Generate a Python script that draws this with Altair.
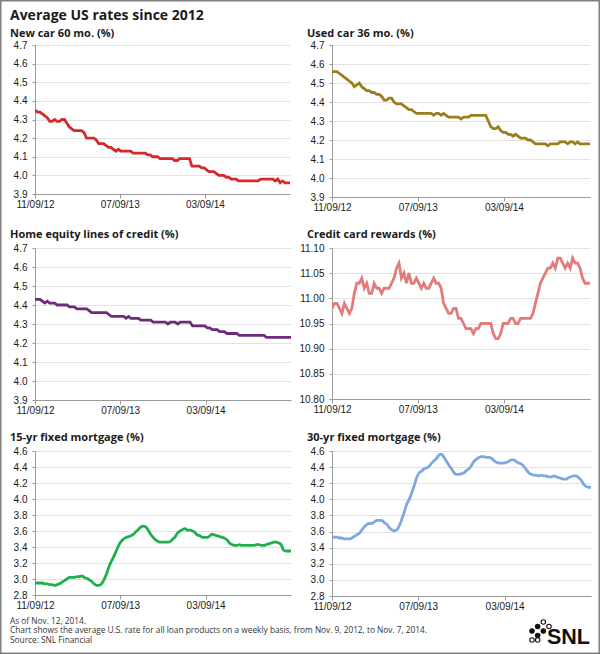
import altair as alt
import pandas as pd

# ---------------- data ----------------
START_DATE = "2012-11-09"
N_WEEKS = 105

new_car = [
    4.35, 4.34, 4.34, 4.33, 4.32, 4.31, 4.29, 4.29, 4.30, 4.29,
    4.29, 4.30, 4.30, 4.28, 4.26, 4.25, 4.24, 4.24, 4.24, 4.24,
    4.23, 4.20, 4.20, 4.20, 4.20, 4.19, 4.17, 4.17, 4.17, 4.16,
    4.15, 4.15, 4.14, 4.13, 4.14, 4.13, 4.13, 4.13, 4.13, 4.13,
    4.12, 4.12, 4.12, 4.12, 4.12, 4.12, 4.11, 4.11, 4.10, 4.10,
    4.10, 4.09, 4.09, 4.09, 4.09, 4.09, 4.09, 4.08, 4.08, 4.09,
    4.09, 4.09, 4.09, 4.09, 4.05, 4.05, 4.05, 4.05, 4.04, 4.04,
    4.03, 4.02, 4.02, 4.02, 4.01, 4.00, 4.00, 4.00, 3.99, 3.99,
    3.98, 3.98, 3.98, 3.97, 3.97, 3.97, 3.97, 3.97, 3.97, 3.97,
    3.97, 3.97, 3.98, 3.98, 3.98, 3.98, 3.98, 3.98, 3.97, 3.98,
    3.96, 3.97, 3.96, 3.96, 3.96,
]
used_car = [
    4.56, 4.56, 4.56, 4.55, 4.54, 4.53, 4.52, 4.51, 4.50, 4.48,
    4.49, 4.50, 4.48, 4.47, 4.46, 4.46, 4.45, 4.45, 4.44, 4.44,
    4.43, 4.41, 4.41, 4.42, 4.42, 4.40, 4.39, 4.39, 4.39, 4.38,
    4.37, 4.36, 4.36, 4.35, 4.34, 4.34, 4.34, 4.34, 4.34, 4.34,
    4.34, 4.33, 4.34, 4.34, 4.33, 4.34, 4.33, 4.32, 4.32, 4.32,
    4.32, 4.32, 4.31, 4.32, 4.32, 4.32, 4.33, 4.33, 4.33, 4.33,
    4.33, 4.33, 4.33, 4.30, 4.27, 4.26, 4.26, 4.27, 4.25, 4.24,
    4.24, 4.23, 4.23, 4.22, 4.23, 4.22, 4.21, 4.21, 4.21, 4.20,
    4.20, 4.19, 4.18, 4.18, 4.18, 4.18, 4.18, 4.17, 4.18, 4.18,
    4.18, 4.18, 4.19, 4.19, 4.19, 4.18, 4.19, 4.19, 4.18, 4.19,
    4.18, 4.18, 4.18, 4.18, 4.18,
]
home_equity = [
    4.43, 4.43, 4.43, 4.42, 4.41, 4.42, 4.41, 4.41, 4.41, 4.40,
    4.40, 4.40, 4.40, 4.40, 4.39, 4.39, 4.39, 4.38, 4.38, 4.38,
    4.38, 4.38, 4.37, 4.36, 4.36, 4.36, 4.36, 4.36, 4.36, 4.36,
    4.35, 4.34, 4.34, 4.34, 4.34, 4.34, 4.34, 4.33, 4.34, 4.33,
    4.33, 4.33, 4.33, 4.32, 4.32, 4.32, 4.32, 4.32, 4.31, 4.31,
    4.31, 4.31, 4.31, 4.31, 4.30, 4.31, 4.31, 4.31, 4.30, 4.31,
    4.31, 4.31, 4.31, 4.31, 4.29, 4.29, 4.29, 4.29, 4.29, 4.29,
    4.28, 4.28, 4.27, 4.27, 4.27, 4.26, 4.26, 4.26, 4.25, 4.25,
    4.25, 4.25, 4.25, 4.24, 4.24, 4.24, 4.24, 4.24, 4.24, 4.24,
    4.24, 4.24, 4.24, 4.24, 4.23, 4.23, 4.23, 4.23, 4.23, 4.23,
    4.23, 4.23, 4.23, 4.23, 4.23,
]
credit_card = [
    10.98, 10.99, 10.99, 10.98, 10.97, 10.99, 10.98, 10.97, 10.98, 11.01,
    11.03, 11.03, 11.04, 11.02, 11.03, 11.01, 11.01, 11.03, 11.02, 11.02,
    11.01, 11.02, 11.02, 11.02, 11.03, 11.04, 11.06, 11.07, 11.04, 11.05,
    11.03, 11.05, 11.03, 11.03, 11.04, 11.03, 11.02, 11.03, 11.02, 11.02,
    11.03, 11.04, 11.03, 11.03, 11.02, 10.99, 10.98, 10.97, 10.97, 10.98,
    10.98, 10.96, 10.96, 10.95, 10.94, 10.94, 10.94, 10.93, 10.94, 10.94,
    10.95, 10.95, 10.95, 10.95, 10.95, 10.93, 10.92, 10.92, 10.93, 10.95,
    10.95, 10.95, 10.96, 10.96, 10.95, 10.95, 10.96, 10.96, 10.96, 10.96,
    10.96, 10.97, 10.99, 11.01, 11.03, 11.04, 11.05, 11.06, 11.06, 11.07,
    11.06, 11.08, 11.08, 11.07, 11.06, 11.07, 11.06, 11.08, 11.07, 11.07,
    11.06, 11.04, 11.03, 11.03, 11.03,
]
fixed_15yr = [
    2.95, 2.95, 2.95, 2.95, 2.94, 2.94, 2.93, 2.93, 2.92, 2.93,
    2.94, 2.96, 2.98, 3.00, 3.02, 3.02, 3.02, 3.03, 3.03, 3.04,
    3.02, 3.01, 2.99, 2.97, 2.94, 2.92, 2.92, 2.94, 2.99, 3.06,
    3.15, 3.22, 3.28, 3.35, 3.42, 3.47, 3.50, 3.52, 3.53, 3.54,
    3.56, 3.59, 3.62, 3.65, 3.66, 3.65, 3.61, 3.56, 3.52, 3.49,
    3.47, 3.46, 3.46, 3.46, 3.46, 3.47, 3.50, 3.53, 3.58, 3.60,
    3.62, 3.63, 3.61, 3.61, 3.60, 3.58, 3.55, 3.54, 3.52, 3.52,
    3.52, 3.54, 3.56, 3.55, 3.54, 3.53, 3.52, 3.51, 3.49, 3.45,
    3.43, 3.42, 3.42, 3.43, 3.42, 3.42, 3.42, 3.42, 3.42, 3.42,
    3.43, 3.43, 3.42, 3.42, 3.43, 3.44, 3.45, 3.46, 3.46, 3.45,
    3.43, 3.36, 3.35, 3.35, 3.35,
]
fixed_30yr = [
    3.54, 3.53, 3.53, 3.52, 3.52, 3.51, 3.51, 3.51, 3.52, 3.54,
    3.56, 3.58, 3.62, 3.66, 3.69, 3.70, 3.70, 3.72, 3.74, 3.74,
    3.74, 3.71, 3.69, 3.65, 3.62, 3.61, 3.62, 3.67, 3.75, 3.84,
    3.94, 4.00, 4.08, 4.17, 4.27, 4.33, 4.35, 4.38, 4.39, 4.41,
    4.45, 4.48, 4.51, 4.55, 4.56, 4.52, 4.47, 4.42, 4.38, 4.33,
    4.31, 4.31, 4.32, 4.33, 4.36, 4.38, 4.42, 4.47, 4.50, 4.52,
    4.53, 4.53, 4.52, 4.52, 4.51, 4.48, 4.46, 4.45, 4.45, 4.45,
    4.46, 4.47, 4.49, 4.49, 4.47, 4.45, 4.44, 4.41, 4.37, 4.33,
    4.31, 4.30, 4.30, 4.29, 4.30, 4.29, 4.29, 4.28, 4.28, 4.29,
    4.28, 4.27, 4.26, 4.25, 4.25, 4.27, 4.28, 4.29, 4.29, 4.27,
    4.24, 4.19, 4.16, 4.15, 4.15,
]

titles = [
    "New car 60 mo. (%)", "Used car 36 mo. (%)",
    "Home equity lines of credit (%)", "Credit card rewards (%)",
    "15-yr fixed mortgage (%)", "30-yr fixed mortgage (%)",
]
x_tick_dates = [(2012, 11, 9), (2013, 7, 9), (2014, 3, 9)]
x_domain = [(2012, 11, 9), (2014, 11, 7)]
y_ticks_car = [3.9, 4.0, 4.1, 4.2, 4.3, 4.4, 4.5, 4.6, 4.7]
y_ticks_card = [10.80, 10.85, 10.90, 10.95, 11.00, 11.05, 11.10]
y_ticks_mort = [2.8, 3.0, 3.2, 3.4, 3.6, 3.8, 4.0, 4.2, 4.4, 4.6]

main_title = "Average US rates since 2012"
footer_lines = [
    "As of Nov. 12, 2014.",
    "Chart shows the average U.S. rate for all loan products on a weekly basis, from Nov. 9, 2012, to Nov. 7, 2014.",
    "Source: SNL Financial",
]
# logo dot pattern (grid cells), filled or hollow
logo_col = [0, 1, 1, 2, 2, 3, 0, 1]
logo_row = [2, 1, 3, 0, 2, 1, 4, 4]
logo_fill = ["f", "f", "f", "h", "f", "h", "h", "h"]

series = [new_car, used_car, home_equity, credit_card, fixed_15yr, fixed_30yr]
for s in series:
    if len(s) != N_WEEKS:
        raise ValueError(f"lengths: {[len(t) for t in series]}")

dates = pd.date_range(START_DATE, periods=N_WEEKS, freq="7D").strftime("%Y-%m-%d")

# ---------------- layout (pixels) ----------------
PAGE_W, PAGE_H = 600, 654
COL0_X, ROW1_Y = 35, 45          # page position of the first plot area
COL_GAP = 41
ROW_GAP = 51
H_ROW = [152, 152, 145]

FONT_AX = "Liberation Sans"
FONT_T = "Open Sans"
TXT = "#1a1a1a"


def dt(t):
    return alt.DateTime(year=t[0], month=t[1], date=t[2], utc=True)


def panel(values, title, color, ydom, yticks, yfmt, width, height,
          interp="linear", toff=1, main=None):
    df = pd.DataFrame({"date": dates, "rate": values})
    if main is None:
        tp = alt.TitleParams(
            title, anchor="start", frame="group", fontSize=11,
            fontWeight="bold", font=FONT_T, color=TXT, offset=toff, dx=-25,
        )
    else:
        tp = alt.TitleParams(
            main, subtitle=title, anchor="start", frame="group", fontSize=14,
            fontWeight="bold", font=FONT_T, color=TXT, offset=toff, dx=-25,
            subtitleFont=FONT_T, subtitleFontSize=11, subtitleFontWeight="bold",
            subtitleColor=TXT, subtitlePadding=5,
        )
    return (
        alt.Chart(df, title=tp)
        .mark_line(color=color, strokeWidth=2.8, interpolate=interp, clip=True)
        .encode(
            x=alt.X(
                "date:T",
                scale=alt.Scale(type="utc", domain=[dt(x_domain[0]), dt(x_domain[1])]),
                axis=alt.Axis(
                    values=[dt(t) for t in x_tick_dates],
                    labelExpr="utcFormat(datum.value, '%m/%d/%y')",
                    title=None, grid=False, labelFlush=False, labelOverlap=False,
                    labelFont=FONT_AX, labelFontSize=10, labelColor=TXT,
                    domainColor="#9a9a9a", tickColor="#9a9a9a", tickSize=4,
                    labelPadding=1,
                ),
            ),
            y=alt.Y(
                "rate:Q",
                scale=alt.Scale(domain=ydom, nice=False, zero=False),
                axis=alt.Axis(
                    values=yticks, format=yfmt, title=None, grid=True,
                    gridColor="#e3e3e3", labelFont=FONT_AX, labelFontSize=10,
                    labelColor=TXT, domainColor="#9a9a9a", tickColor="#9a9a9a",
                    tickSize=3, labelPadding=5,
                ),
            ),
        )
        .properties(width=width, height=height)
    )


p1 = panel(new_car, titles[0], "#d42a2a", [3.9, 4.7], y_ticks_car, ".1f", 255, 149,
           toff=1, main=main_title)
p2 = panel(used_car, titles[1], "#9c7d1e", [3.9, 4.7], y_ticks_car, ".1f", 258, 152, toff=1)
p3 = panel(home_equity, titles[2], "#6e2b7c", [3.9, 4.7], y_ticks_car, ".1f", 256, 152, toff=3)
p4 = panel(credit_card, titles[3], "#e37b7b", [10.80, 11.10], y_ticks_card, ".2f", 258, 151, toff=3)
p5 = panel(fixed_15yr, titles[4], "#1fb04c", [2.8, 4.6], y_ticks_mort, ".1f", 256, 144,
           "monotone", toff=3)
p6 = panel(fixed_30yr, titles[5], "#7ea8e2", [2.8, 4.6], y_ticks_mort, ".1f", 259, 145,
           "monotone", toff=3)

# ---------------- footer cell (holds notes, logo and outer frame) ----------------
FOOT_Y = ROW1_Y + sum(H_ROW) + 3 * ROW_GAP      # page y of the footer cell origin
FX, FY = COL0_X, FOOT_Y

foot_df = pd.DataFrame({"i": list(range(len(footer_lines))), "t": footer_lines})
foot_text = alt.Chart(foot_df).mark_text(
    align="left", baseline="middle", font=FONT_T, fontSize=8.3, color="#333333"
).encode(
    x=alt.value(10 - FX),
    y=alt.Y("i:Q", axis=None,
            scale=alt.Scale(domain=[0, 2], range=[621.5 - FY, 641 - FY])),
    text="t:N",
)
snl = alt.Chart(pd.DataFrame({"t": ["SNL"]})).mark_text(
    align="right", baseline="alphabetic", font=FONT_AX, fontSize=21.5,
    fontWeight="bold", color="#111111",
).encode(x=alt.value(590 - FX), y=alt.value(644 - FY), text="t:N")
logo_df = pd.DataFrame({"c": logo_col, "r": logo_row, "f": logo_fill})
logo = alt.Chart(logo_df).mark_point(size=20, strokeWidth=1.1, opacity=1).encode(
    x=alt.X("c:Q", axis=None, scale=alt.Scale(domain=[0, 3], range=[532 - FX, 549 - FX])),
    y=alt.Y("r:Q", axis=None, scale=alt.Scale(domain=[0, 4], range=[622 - FY, 640 - FY])),
    fill=alt.Fill("f:N", scale=alt.Scale(domain=["f", "h"], range=["#111111", "white"]), legend=None),
    color=alt.value("#111111"),
)
frame = alt.Chart(pd.DataFrame({"k": [0]})).mark_rect(
    fillOpacity=0, stroke="#808080", strokeWidth=1.5
).encode(
    x=alt.value(0.75 - FX), x2=alt.value(PAGE_W - 0.75 - FX),
    y=alt.value(0.75 - FY), y2=alt.value(PAGE_H - 0.75 - FY),
)
footer = (
    alt.layer(frame, foot_text, logo, snl)
    .resolve_scale(x="independent", y="independent")
    .properties(width=1, height=1)
)

chart = (
    alt.concat(
        p1, p2, p3, p4, p5, p6, footer,
        columns=2,
        bounds="flush",
        align="each",
        spacing={"row": ROW_GAP, "column": COL_GAP},
    )
    .properties(padding=0)
    .configure_view(stroke=None)
)

chart.save("out.html", embed_options={"renderer": "svg", "actions": False})
